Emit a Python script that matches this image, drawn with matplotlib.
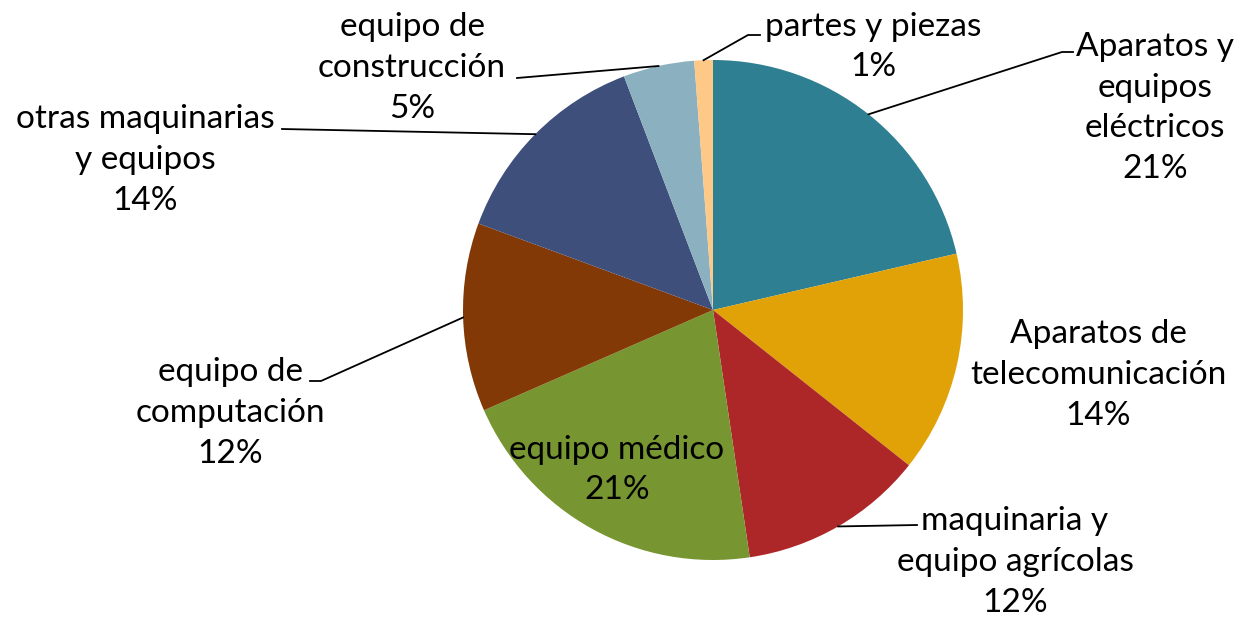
import matplotlib.pyplot as plt
import numpy as np

plt.rcParams['font.family'] = ['Lato', 'DejaVu Sans']

labels = ['Aparatos y\nequipos\neléctricos', 'Aparatos de\ntelecomunicación',
          'maquinaria y\nequipo agrícolas', 'equipo médico', 'equipo de\ncomputación',
          'otras maquinarias\ny equipos', 'equipo de\nconstrucción', 'partes y piezas']
values = [21.4, 14.3, 12.0, 20.8, 12.2, 13.6, 4.6, 1.2]
colors = ['#2F7F92', '#E1A208', '#AD2729', '#779530', '#823906', '#3F4F7B', '#8BB1C0', '#FEC886']

# label centres and leader knees in pixel coords (layout only)
W, H = 1244, 618
cx, cy, R = 713, 310, 250
label_pos = [(1155, 108), (1098, 375), (1015, 562), (617, 470),
             (230, 413), (145, 160), (412, 68), (873, 47)]
knees = [[(1062, 52), (1073, 52)], None, [(917, 525)], None,
         [(321, 381), (310, 381)], [(282, 129)], [(517, 78)], [(748, 35), (760, 35)]]

def px(p):
    return ((p[0] - cx) / R, (cy - p[1]) / R)

fig = plt.figure(figsize=(W / 100, H / 100), dpi=100)
ax = fig.add_axes([0, 0, 1, 1])
wedges, _ = ax.pie(values, colors=colors, startangle=90, counterclock=False,
                   radius=1, wedgeprops=dict(linewidth=0))
ax.set_xlim(-cx / R, (W - cx) / R)
ax.set_ylim(-(H - cy) / R, cy / R)
ax.set_aspect('equal')
ax.axis('off')

tot = sum(values)
for i, w in enumerate(wedges):
    pct = '%d%%' % round(values[i] / tot * 100)
    x, y = px(label_pos[i])
    ax.text(x, y, labels[i] + '\n' + pct, ha='center', va='center',
            fontsize=24, linespacing=1.45, color='black')
    if knees[i] is not None:
        ang = np.deg2rad((w.theta1 + w.theta2) / 2)
        pts = [(np.cos(ang), np.sin(ang))] + [px(k) for k in knees[i]]
        xs, ys = zip(*pts)
        ax.plot(xs, ys, color='black', lw=1.3)

plt.savefig('out.png', dpi=100)
